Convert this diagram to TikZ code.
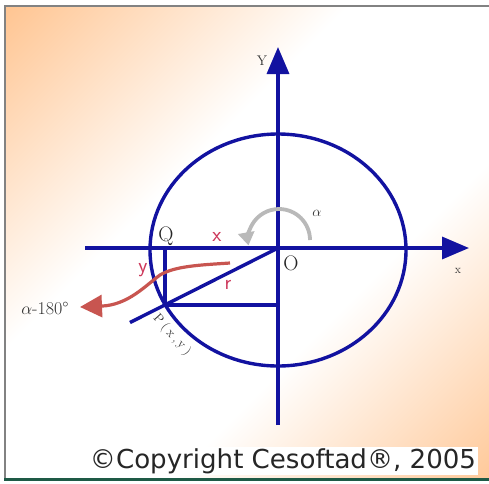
\documentclass[tikz,border=0pt]{standalone}
\usepackage{fontspec}
\usetikzlibrary{arrows.meta}
\definecolor{axblue}{RGB}{18,18,160}
\definecolor{peach}{RGB}{255,198,148}
\definecolor{brick}{RGB}{200,85,80}
\definecolor{lblred}{RGB}{205,55,90}
\definecolor{framegreen}{RGB}{30,90,70}
\definecolor{arcgray}{RGB}{185,185,185}
\definecolor{framegray}{RGB}{130,130,130}
\newfontfamily\cpfont{DejaVu Sans}
\newfontfamily\spacedfont[LetterSpace=22]{Latin Modern Roman}
\pgfdeclarehorizontalshading{bgshade}{100bp}{color(0bp)=(peach); color(15bp)=(peach); color(40bp)=(white); color(62bp)=(white); color(87bp)=(peach); color(100bp)=(peach)}
\begin{document}
\begin{tikzpicture}[x=1pt,y=-1pt,
  blueline/.style={draw=axblue, line width=3.4pt},
  axisline/.style={blueline, -{Triangle[length=27pt,width=22pt]}},
  grayarc/.style={draw=arcgray, line width=3.8pt, -{Triangle[length=13pt,width=16pt]}},
  redarrow/.style={draw=brick, line width=3.2pt, -{Triangle[length=22pt,width=22pt]}},
  serlbl/.style={inner sep=0pt, font=\fontsize{21}{22}\selectfont, text=black!85},
  redlbl/.style={inner sep=0pt, font=\sffamily\fontsize{21}{22}\selectfont, text=lblred},
  smalllbl/.style={inner sep=0pt, font=\fontsize{14}{15}\selectfont, text=black!80}]
\useasboundingbox (0,0) rectangle (489,483);
\fill[white] (0,0) rectangle (489,483);
\shade[shading=bgshade, shading angle=-45] (5,6) rectangle (489,478);
\draw[framegray, line width=2pt] (5,478) -- (5,6) -- (489,6);
\draw[framegreen, line width=3.5pt] (4,479.5) -- (489,479.5);
% coordinates
\coordinate (O) at (278,248);
\coordinate (P) at (165,305);
\coordinate (Q) at (165,248);
\coordinate (Pext) at (130,322.5);
\coordinate (Py) at (278,305);
\coordinate (xs) at (85,248);
\coordinate (xe) at (469,248);
\coordinate (ys) at (278,425);
\coordinate (ye) at (278,47);
\coordinate (C) at (278,250);
% circle and lines
\draw[blueline] (C) ellipse [x radius=128, y radius=116];
\draw[axisline] (xs) -- (xe);
\draw[axisline] (ys) -- (ye);
\draw[blueline] (O) -- (Pext);
\draw[blueline] (Q) -- (P);
\draw[blueline] (P) -- (Py);
% gray angle arc
\coordinate (arcstart) at (310,240);
\draw[grayarc] (arcstart) arc[start angle=0, end angle=-190, radius=31];
% red arrow
\coordinate (rs) at (230,263);
\coordinate (rtip) at (80,307);
\draw[redarrow] (rs) .. controls (200,265) and (175,266) .. (160,275)
  .. controls (145,286) and (128,305) .. (rtip);
% labels
\node[serlbl] (Qlbl) at (166,236) {Q};
\node[serlbl] (Olbl) at (291,263) {O};
\node[smalllbl] (Ylbl) at (262,61) {Y};
\node[smalllbl, font=\fontsize{12}{13}\selectfont] (xlbl) at (458,271) {x};
\node[smalllbl] (alpha) at (317,213) {$\alpha$};
\node[redlbl] (xr) at (217,237) {x};
\node[redlbl] (yr) at (143,270) {y};
\node[redlbl] (rr) at (228,285) {r};
\node[inner sep=0pt, font=\fontsize{18}{19}\selectfont, text=black!80] (ang) at (45,308) {$\alpha$-180\textdegree};
\node[inner sep=0pt, font=\spacedfont\fontsize{13}{14}\selectfont, text=black!80, rotate=-48] (Plbl) at (172,335) {P(x,y)};
% copyright
\fill[white] (88,447) rectangle (478,475);
\node[inner sep=0pt, text=black!85] (copy) at (283,461) {\resizebox{386pt}{!}{\cpfont ©Copyright Cesoftad®, 2005}};
\end{tikzpicture}
\end{document}
